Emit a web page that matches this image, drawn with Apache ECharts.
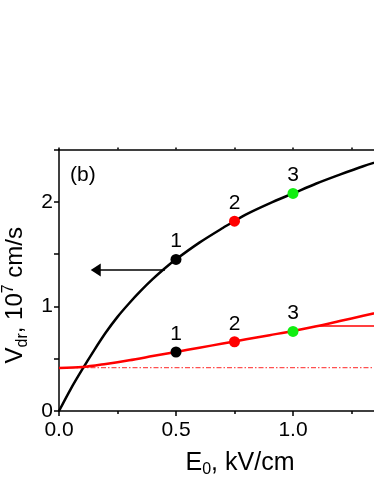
<!DOCTYPE html>
<html>
<head>
<meta charset="utf-8">
<script src="https://cdn.jsdelivr.net/npm/echarts@6/dist/echarts.min.js"></script>
<style>html,body{margin:0;padding:0;background:#fff;}#c{width:374px;height:484px;}</style>
</head>
<body>
<div id="c"></div>
<script>
// ---- data ----
const blackE = [0, 0.05, 0.1, 0.15, 0.2, 0.25, 0.3, 0.35, 0.4, 0.45, 0.5, 0.6, 0.7, 0.75, 0.8, 0.9, 1.0, 1.1, 1.2, 1.3, 1.4];
const blackV = [0, 0.21, 0.40, 0.58, 0.75, 0.90, 1.03, 1.15, 1.26, 1.36, 1.45, 1.61, 1.75, 1.815, 1.88, 1.985, 2.08, 2.175, 2.26, 2.34, 2.41];
const redE = [0, 0.1, 0.2, 0.3, 0.4, 0.5, 0.6, 0.7, 0.8, 0.9, 1.0, 1.1, 1.2, 1.3, 1.4];
const redV = [0.41, 0.42, 0.45, 0.485, 0.525, 0.565, 0.605, 0.645, 0.685, 0.725, 0.765, 0.81, 0.86, 0.91, 0.96];
const refLineE = [0, 1.5];
const refLineV = [0.414, 0.414];
const blackArrowE = [0.453, 0.175];
const blackArrowV = [1.347, 1.347];
const blackArrowHeadE = [0.157];
const blackArrowHeadV = [1.347];
const redArrowE = [1.108, 1.5];
const redArrowV = [0.812, 0.812];
const markerE = [0.5, 0.75, 1.0];
const markerUpperV = [1.449, 1.815, 2.08];
const markerLowerV = [0.564, 0.662, 0.761];
const markerLabels = ['1', '2', '3'];
const xTicks = [0, 0.5, 1.0];
const yTicks = [0, 1, 2];

// ---- styles ----
const FONT = "'Liberation Sans', Arial, sans-serif";
const markerColors = ['#000000', '#ff0000', '#11ee11'];
const zip = (a, b) => a.map((v, i) => [v, b[i]]);

const chart = echarts.init(document.getElementById('c'), null, {renderer: 'canvas'});

function markerData(vals) {
  return markerE.map((e, i) => ({
    value: [e, vals[i]],
    itemStyle: {color: markerColors[i], opacity: 1},
    label: {formatter: markerLabels[i]}
  }));
}

const axisCommon = {
  type: 'value', min: 0, max: 1.5, interval: 0.5,
  splitLine: {show: false}
};

chart.setOption({
  animation: false,
  backgroundColor: '#ffffff',
  textStyle: {fontFamily: FONT},
  title: {
    text: '(b)', left: 65, top: 160,
    textStyle: {fontSize: 21, fontWeight: 'normal', color: '#000', fontFamily: FONT}
  },
  grid: {left: 59, top: 149.5, width: 351, height: 261.5, containLabel: false, outerBoundsMode: 'none'},
  xAxis: [
    Object.assign({}, axisCommon, {
      position: 'bottom',
      axisLine: {show: true, onZero: false, lineStyle: {color: '#000', width: 1.5}},
      axisTick: {show: true, length: 5, lineStyle: {color: '#000', width: 1.5}},
      minorTick: {show: true, splitNumber: 2, length: 3, lineStyle: {color: '#000', width: 1.5}},
      axisLabel: {
        fontSize: 21, color: '#000', fontFamily: FONT, margin: 9,
        formatter: v => xTicks.some(t => Math.abs(t - v) < 1e-9) ? v.toFixed(1) : ''
      },
      name: '{a|E}{s|0}{a|, kV/cm}',
      nameLocation: 'middle',
      nameGap: 37,
      nameTextStyle: {
        padding: [0, 0, 0, 11],
        rich: {
          a: {fontSize: 25, lineHeight: 30, color: '#000', fontFamily: FONT},
          s: {fontSize: 16, lineHeight: 12, verticalAlign: 'bottom', color: '#000', fontFamily: FONT}
        }
      }
    }),
    Object.assign({}, axisCommon, {
      position: 'top',
      axisLine: {show: true, onZero: false, lineStyle: {color: '#000', width: 1.5}},
      axisTick: {show: true, length: 2, lineStyle: {color: '#000', width: 1.5}},
      minorTick: {show: true, splitNumber: 2, length: 2, lineStyle: {color: '#000', width: 1.5}},
      axisLabel: {show: false}
    })
  ],
  yAxis: [{
    type: 'value', min: 0, max: 2.5, interval: 0.5,
    position: 'left',
    splitLine: {show: false},
    axisLine: {show: true, onZero: false, lineStyle: {color: '#000', width: 1.5}},
    axisTick: {show: true, length: 5, lineStyle: {color: '#000', width: 1.5}},
    axisLabel: {
      fontSize: 21, color: '#000', fontFamily: FONT, margin: 6,
      formatter: v => yTicks.some(t => Math.abs(t - v) < 1e-9) ? String(v) : ''
    },
    name: '{a|V}{s|dr}{a|, 10}{p|7}{a| cm/s}',
    nameLocation: 'middle',
    nameRotate: 90,
    nameGap: 23,
    nameTextStyle: {
      padding: [0, 30, 0, 0],
      rich: {
        a: {fontSize: 24, lineHeight: 30, color: '#000', fontFamily: FONT},
        s: {fontSize: 16, lineHeight: 12, verticalAlign: 'bottom', color: '#000', fontFamily: FONT},
        p: {fontSize: 16, lineHeight: 16, verticalAlign: 'top', color: '#000', fontFamily: FONT}
      }
    }
  }],
  series: [
    {
      type: 'line', name: 'ref', data: zip(refLineE, refLineV), showSymbol: false, silent: true,
      lineStyle: {color: '#ff5050', width: 1.2, type: [5, 2, 1.5, 2]}, z: 1
    },
    {
      type: 'line', name: 'black', data: zip(blackE, blackV), showSymbol: false, smooth: 0.3,
      lineStyle: {color: '#000', width: 2.5}, z: 2
    },
    {
      type: 'line', name: 'red', data: zip(redE, redV), showSymbol: false, smooth: 0.3,
      lineStyle: {color: '#ff0000', width: 2.5}, z: 3
    },
    {
      type: 'line', name: 'blackArrow', data: zip(blackArrowE, blackArrowV), showSymbol: false,
      lineStyle: {color: '#000', width: 1.5}, z: 2
    },
    {
      type: 'scatter', name: 'blackArrowHead', data: zip(blackArrowHeadE, blackArrowHeadV),
      symbol: 'triangle', symbolRotate: 90, symbolSize: [13, 10],
      itemStyle: {color: '#000', opacity: 1}, z: 3
    },
    {
      type: 'line', name: 'redArrow', data: zip(redArrowE, redArrowV), showSymbol: false,
      lineStyle: {color: '#ff0000', width: 1.5}, z: 2
    },
    {
      type: 'scatter', name: 'upperMarkers', data: markerData(markerUpperV), symbolSize: 11, z: 5,
      label: {show: true, position: 'top', distance: 2, fontSize: 21, color: '#000', fontFamily: FONT}
    },
    {
      type: 'scatter', name: 'lowerMarkers', data: markerData(markerLowerV), symbolSize: 11, z: 5,
      label: {show: true, position: 'top', distance: 2, fontSize: 21, color: '#000', fontFamily: FONT}
    }
  ]
});
</script>
</body>
</html>
